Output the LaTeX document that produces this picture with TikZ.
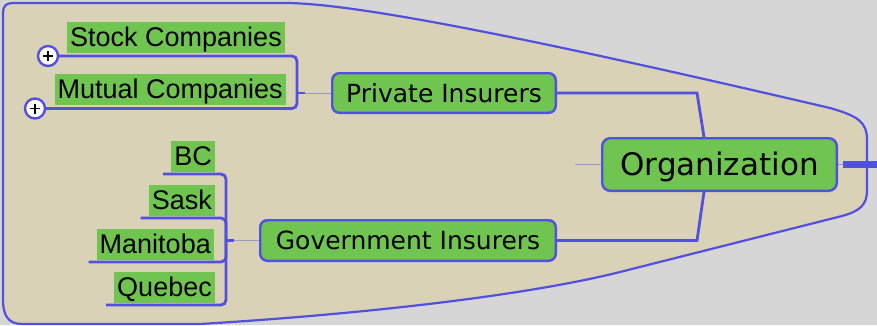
\documentclass[tikz,border=0pt]{standalone}
\usepackage{fontspec}
\newfontfamily\topicfont{DejaVu Sans}
\newfontfamily\leaffont{Liberation Sans}
\usetikzlibrary{positioning,calc}
\definecolor{mapblue}{RGB}{82,80,222}
\definecolor{topicgreen}{RGB}{112,196,80}
\definecolor{boundfill}{RGB}{217,210,183}
\definecolor{canvasgray}{RGB}{214,214,214}

\tikzset{
    topic/.style={draw=mapblue, line width=2.4pt, fill=topicgreen, rounded corners=7pt, inner sep=0pt, text depth=0pt},
    leaf/.style={fill=topicgreen, font=\leaffont\fontsize{27}{30}\selectfont, inner xsep=3pt, inner ysep=0pt, text height=24.5pt, text depth=6.5pt, anchor=south east},
    branch/.style={draw=mapblue, line width=2.8pt},
    stub/.style={draw=mapblue!45!boundfill, line width=0.9pt},
    expander/.style={circle, draw=mapblue, line width=2.4pt, fill=white, minimum size=20pt, inner sep=0pt},
}

\begin{document}
\begin{tikzpicture}[x=1pt, y=-1pt]
    \useasboundingbox (0,0) rectangle (877,325);
    \fill[canvasgray] (0,0) rectangle (877,325);

    % Boundary
    \draw[mapblue, line width=2.2pt, fill=boundfill]
        (3,13) .. controls (3,6) and (6,3) .. (13,3) -- (285,3)
        .. controls (360,3) and (560,45) .. (830,108)
        .. controls (858,116) and (867,122) .. (867,140) -- (867,190)
        .. controls (867,205) and (860,211) .. (842,216) -- (620,272)
        .. controls (520,297) and (350,315) .. (200,324) -- (22,324)
        .. controls (8,324) and (3,315) .. (3,300) -- cycle;

    % Central topic
    \node[topic, font=\topicfont\fontsize{31}{34}\selectfont, minimum width=234.6pt, minimum height=52.6pt, text height=22.6pt, rounded corners=8pt] (org) at (719.5,164.5) {Organization};
    \node[topic, font=\topicfont\fontsize{25}{28}\selectfont, minimum width=223.6pt, minimum height=39.6pt, text height=18.3pt] (pi) at (444,93) {Private Insurers};
    \node[topic, font=\topicfont\fontsize{25}{28}\selectfont, minimum width=295.6pt, minimum height=40.6pt, text height=18.3pt] (gi) at (408,240.5) {Government Insurers};

    \draw[branch] (pi.east) -- (697,93) -- ([xshift=-15.5pt]org.north);
    \draw[branch] (gi.east) -- (697,240.5) -- ([xshift=-15.5pt]org.south);

    \coordinate (orgstub) at (575,164.5);
    \coordinate (exit) at (843,164.5);
    \draw[stub] (orgstub) -- (org.west);
    \draw[stub] (org.east) -- (exit);
    \draw[mapblue, line width=7pt] (exit) -- ++(34,0);

    % Private branch
    \node[leaf] (sc) at (285,53) {Stock Companies};
    \node[leaf] (mc) at (286,105.5) {Mutual Companies};
    \node[expander] (sc-x) at (48,56) {};
    \node[expander] (mc-x) at (35,108.5) {};
    \foreach \e in {sc-x, mc-x}
        \draw[line width=1.8pt] (\e.center) +(-5,0) -- +(5,0) +(0,-5) -- +(0,5);

    \coordinate (pjoin) at (297,93);
    \draw[branch, rounded corners=5pt] (sc-x.east) -- (297,56) -- (297,108.5) -- (mc-x.east);
    \draw[branch] (pjoin) -- ++(8,0) coordinate (ptick);
    \draw[stub] (ptick) -- (pi.west);

    % Government branch
    \node[leaf] (bc) at (215,172) {BC};
    \node[leaf] (sk) at (215,216) {Sask};
    \node[leaf] (mb) at (214,260) {Manitoba};
    \node[leaf] (qb) at (215,303) {Quebec};

    \coordinate (gjoin) at (226,240.5);
    \draw[branch, rounded corners=5pt] ([shift={(-8pt,-2pt)}]bc.south west) -- (226,174) -- (226,305) -- ([shift={(-8pt,-2pt)}]qb.south west);
    \draw[branch, rounded corners=5pt] ([shift={(-8pt,-2pt)}]sk.south west) -- (226,218) -- (gjoin);
    \draw[branch, rounded corners=5pt] ([shift={(-8pt,-2pt)}]mb.south west) -- (226,262) -- (gjoin);
    \draw[branch] (gjoin) -- ++(8,0) coordinate (gtick);
    \draw[stub] (gtick) -- (gi.west);
\end{tikzpicture}
\end{document}
